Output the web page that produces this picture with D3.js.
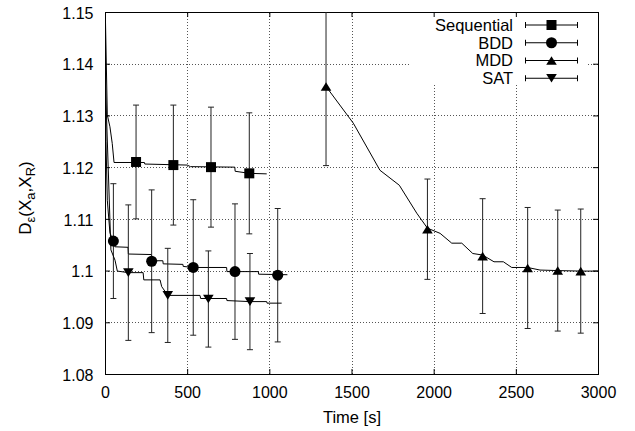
<!DOCTYPE html>
<html>
<head>
<meta charset="utf-8">
<script src="https://cdn.jsdelivr.net/npm/d3@7"></script>
<style>
body { margin: 0; background: #fff; }
svg { font-family: "Liberation Sans", Arial, sans-serif; }
</style>
</head>
<body>
<div id="chart"></div>
<script>
// ticks
var xTicks = [0, 500, 1000, 1500, 2000, 2500, 3000];
var yTicks = [1.08, 1.09, 1.10, 1.11, 1.12, 1.13, 1.14, 1.15];
var yTickLabels = ["1.08", "1.09", "1.1", "1.11", "1.12", "1.13", "1.14", "1.15"];

var seriesNames = ["Sequential", "BDD", "MDD", "SAT"];

// curves (time [s], value)
var seqCurveT = [0, 14, 30, 44, 55, 240, 242, 500, 520, 790, 792, 880, 984];
var seqCurveV = [1.153, 1.1301, 1.1278, 1.1246, 1.1209, 1.1209, 1.1206, 1.1204, 1.1201, 1.1200, 1.1192, 1.1188, 1.1187];

var bddCurveT = [0, 6, 14, 30, 51, 60, 140, 142, 282, 286, 352, 354, 474, 476, 537, 740, 742, 933, 935, 1110];
var bddCurveV = [1.156, 1.125, 1.1136, 1.1073, 1.1057, 1.1046, 1.1045, 1.1032, 1.1031, 1.1019, 1.1019, 1.1013, 1.1012, 1.1008, 1.1006, 1.1006, 1.0998, 1.0998, 1.0993, 1.0992];

var mddCurveT = [1345, 1511, 1673, 1791, 1897, 1962, 2039, 2110, 2171, 2238, 2298, 2367, 2424, 2475, 2572, 2647, 2755, 2895, 3000];
var mddCurveV = [1.1356, 1.1285, 1.1194, 1.1165, 1.1111, 1.1082, 1.1072, 1.1053, 1.1053, 1.1033, 1.1030, 1.1017, 1.1017, 1.1006, 1.1006, 1.1001, 1.1000, 1.0999, 1.0999];

var satCurveT = [1, 36, 61, 75, 142, 232, 236, 335, 345, 365, 382, 578, 582, 740, 742, 882, 984, 986, 1075];
var satCurveV = [1.1378, 1.1040, 1.1020, 1.0999, 1.0996, 1.0996, 1.0982, 1.0982, 1.0969, 1.0960, 1.0952, 1.0952, 1.0946, 1.0946, 1.0942, 1.0940, 1.0940, 1.0937, 1.0937];

// points with error bars
var seqT = [189, 416, 645, 878];
var seqV = [1.1210, 1.1204, 1.1200, 1.1188];
var seqErr = [0.0110, 0.0116, 0.0116, 0.0117];

var bddT = [51, 284, 537, 791, 1051];
var bddV = [1.1057, 1.1018, 1.1006, 1.0998, 1.0991];
var bddErr = [0.0111, 0.0138, 0.0131, 0.0131, 0.0129];

var mddT = [1345, 1962, 2298, 2572, 2755, 2895];
var mddV = [1.1356, 1.1080, 1.1028, 1.1005, 1.1000, 1.0999];
var mddErr = [0.0153, 0.0097, 0.0111, 0.0117, 0.0117, 0.0120];

var satT = [142, 382, 629, 882];
var satV = [1.0996, 1.0952, 1.0945, 1.0940];
var satErr = [0.0131, 0.0091, 0.0093, 0.0093];

(function() {
  var width = 635, height = 431;
  var left = 105, right = 598, plotTop = 12, plotBottom = 374;

  var x = d3.scaleLinear().domain([0, 3000]).range([left, right]);
  var y = d3.scaleLinear().domain([1.08, 1.15]).range([plotBottom, plotTop]);

  var markers = {
    square: "M-5,-5H5V5H-5Z",
    circle: d3.symbol().type(d3.symbolCircle).size(95)(),
    up: "M0,-4.3L5.3,4.3L-5.3,4.3Z",
    down: "M0,4.3L5.3,-4.3L-5.3,-4.3Z"
  };

  function zip(ts, vs) {
    return ts.map(function(t, i) { return [t, vs[i]]; });
  }

  function points(ts, vs, es) {
    return ts.map(function(t, i) { return {t: t, v: vs[i], e: es[i]}; });
  }

  var series = [
    {name: seriesNames[0], curve: zip(seqCurveT, seqCurveV), pts: points(seqT, seqV, seqErr), marker: "square"},
    {name: seriesNames[1], curve: zip(bddCurveT, bddCurveV), pts: points(bddT, bddV, bddErr), marker: "circle"},
    {name: seriesNames[2], curve: zip(mddCurveT, mddCurveV), pts: points(mddT, mddV, mddErr), marker: "up"},
    {name: seriesNames[3], curve: zip(satCurveT, satCurveV), pts: points(satT, satV, satErr), marker: "down"}
  ];

  var svg = d3.select("#chart").append("svg")
      .attr("width", width)
      .attr("height", height);

  svg.append("defs").append("clipPath")
      .attr("id", "plot")
    .append("rect")
      .attr("x", left)
      .attr("y", plotTop)
      .attr("width", right - left)
      .attr("height", plotBottom - plotTop);

  // Grid
  var grid = svg.append("g")
      .attr("class", "grid")
      .style("stroke", "#555")
      .style("stroke-width", 1)
      .style("stroke-dasharray", "1,2");

  grid.selectAll(".gx")
      .data(xTicks.slice(1, -1))
    .enter().append("line")
      .attr("x1", function(d) { return Math.round(x(d)) + 0.5; })
      .attr("x2", function(d) { return Math.round(x(d)) + 0.5; })
      .attr("y1", plotBottom)
      .attr("y2", plotTop);

  grid.selectAll(".gy")
      .data(yTicks.slice(1, -1))
    .enter().append("line")
      .attr("y1", function(d) { return Math.round(y(d)) + 0.5; })
      .attr("y2", function(d) { return Math.round(y(d)) + 0.5; })
      .attr("x1", left)
      .attr("x2", right);

  // key area is kept clear of grid
  svg.append("rect")
      .attr("x", 411)
      .attr("y", plotTop + 1)
      .attr("width", 177)
      .attr("height", 72)
      .style("fill", "#fff");

  // Axes
  function styleAxis(g) {
    g.select(".domain").remove();
    g.attr("font-size", null).attr("font-family", null);
    g.selectAll("text").style("font-size", "16px").style("fill", "#000");
  }

  svg.append("g")
      .attr("transform", "translate(0," + plotBottom + ")")
      .call(d3.axisBottom(x).tickValues(xTicks).tickSizeInner(-5).tickSizeOuter(0).tickPadding(12.5)
        .tickFormat(d3.format("d")))
      .call(styleAxis);

  svg.append("g")
      .attr("transform", "translate(0," + plotTop + ")")
      .call(d3.axisTop(x).tickValues(xTicks).tickSizeInner(-5).tickSizeOuter(0).tickFormat(""))
      .call(styleAxis);

  svg.append("g")
      .attr("transform", "translate(" + left + ",0)")
      .call(d3.axisLeft(y).tickValues(yTicks).tickSizeInner(-5).tickSizeOuter(0).tickPadding(11.5)
        .tickFormat(function(d, i) { return yTickLabels[i]; }))
      .call(styleAxis)
    .selectAll("text")
      .attr("dy", "0.39em");

  svg.append("g")
      .attr("transform", "translate(" + right + ",0)")
      .call(d3.axisRight(y).tickValues(yTicks).tickSizeInner(-5).tickSizeOuter(0).tickFormat(""))
      .call(styleAxis);

  svg.append("rect")
      .attr("x", left + 0.5)
      .attr("y", plotTop + 0.5)
      .attr("width", right - left)
      .attr("height", plotBottom - plotTop)
      .style("fill", "none")
      .style("stroke", "#000")
      .style("stroke-width", 1);

  // Axis labels
  svg.append("text")
      .attr("x", 352)
      .attr("y", 422.5)
      .attr("text-anchor", "middle")
      .style("font-size", "16.5px")
      .text("Time [s]");

  var ylab = svg.append("text")
      .attr("transform", "translate(31,198) rotate(-90)")
      .attr("text-anchor", "middle")
      .style("font-size", "17px");
  ylab.append("tspan").text("D");
  ylab.append("tspan").attr("dy", 3.5).style("font-size", "13px").text("\u03b5");
  ylab.append("tspan").attr("dy", -3.5).text("(X");
  ylab.append("tspan").attr("dy", 3.5).style("font-size", "13px").text("a");
  ylab.append("tspan").attr("dy", -3.5).text(",X");
  ylab.append("tspan").attr("dy", 3.5).style("font-size", "13px").text("R");
  ylab.append("tspan").attr("dy", -3.5).text(")");

  // Data
  var plot = svg.append("g")
      .attr("clip-path", "url(#plot)");

  var line = d3.line()
      .x(function(d) { return x(d[0]); })
      .y(function(d) { return y(d[1]); });

  var s = plot.selectAll(".series")
      .data(series)
    .enter().append("g")
      .attr("class", "series");

  s.append("path")
      .attr("d", function(d) { return line(d.curve); })
      .style("fill", "none")
      .style("stroke", "#000")
      .style("stroke-width", 1);

  var bar = s.selectAll(".bar")
      .data(function(d) { return d.pts.map(function(p) { return {p: p, marker: d.marker}; }); })
    .enter().append("g")
      .attr("class", "bar")
      .style("stroke", "#222")
      .style("stroke-width", 1);

  bar.append("line")
      .attr("x1", function(d) { return x(d.p.t); })
      .attr("x2", function(d) { return x(d.p.t); })
      .attr("y1", function(d) { return y(d.p.v - d.p.e); })
      .attr("y2", function(d) { return y(d.p.v + d.p.e); });

  bar.selectAll(".cap")
      .data(function(d) { return [-1, 1].map(function(k) { return {t: d.p.t, v: d.p.v + k * d.p.e}; }); })
    .enter().append("line")
      .attr("x1", function(d) { return x(d.t) - 3; })
      .attr("x2", function(d) { return x(d.t) + 3; })
      .attr("y1", function(d) { return y(d.v); })
      .attr("y2", function(d) { return y(d.v); });

  bar.append("path")
      .attr("transform", function(d) { return "translate(" + x(d.p.t) + "," + y(d.p.v) + ")"; })
      .attr("d", function(d) { return markers[d.marker]; })
      .style("fill", "#000")
      .style("stroke", "none");

  // Legend
  var key = svg.append("g")
      .attr("class", "key");

  var item = key.selectAll(".item")
      .data(series)
    .enter().append("g")
      .attr("class", "item")
      .attr("transform", function(d, i) { return "translate(0," + (25 + i * 17.75) + ")"; });

  item.append("text")
      .attr("x", 513)
      .attr("dy", "0.36em")
      .attr("text-anchor", "end")
      .style("font-size", "16.5px")
      .text(function(d) { return d.name; });

  item.append("path")
      .attr("d", "M525,0H578M525.5,-3V3M577.5,-3V3")
      .style("stroke", "#000")
      .style("stroke-width", 1)
      .style("fill", "none");

  item.append("path")
      .attr("transform", "translate(551.5,0)")
      .attr("d", function(d) { return markers[d.marker]; })
      .style("fill", "#000");
})();
</script>
</body>
</html>
